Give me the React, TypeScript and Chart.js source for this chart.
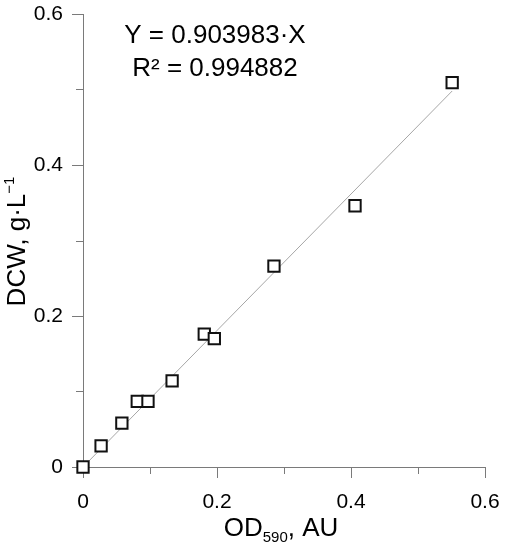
import React, { useEffect, useRef } from 'react';
import { Chart, registerables } from 'chart.js';

Chart.register(...registerables);

// Data
const odValues = [0, 0.027, 0.058, 0.081, 0.097, 0.133, 0.181, 0.196, 0.285, 0.406, 0.551];
const dcwValues = [0, 0.028, 0.058, 0.087, 0.087, 0.114, 0.176, 0.17, 0.266, 0.346, 0.509];
const fitX = [0, 0.551];
const fitY = [0, 0.498];
const majorTickValues = [0, 0.2, 0.4, 0.6];
const majorTickLabels = ['0', '0.2', '0.4', '0.6'];
const minorTickValues = [0.1, 0.3, 0.5];
const equationText = 'Y = 0.903983·X';
const r2Text = 'R² = 0.994882';

const FONT = "'Liberation Sans', Arial, sans-serif";
const AXIS_COLOR = '#7a7a7a';
const FIT_COLOR = '#a6a6a6';

type Part = { text: string; size: number; dy: number };

function drawRich(ctx: CanvasRenderingContext2D, parts: Part[], cx: number, baseline: number) {
  let total = 0;
  const widths = parts.map((p) => {
    ctx.font = `${p.size}px ${FONT}`;
    const w = ctx.measureText(p.text).width;
    total += w;
    return w;
  });
  let x = cx - total / 2;
  ctx.textAlign = 'left';
  ctx.textBaseline = 'alphabetic';
  parts.forEach((p, i) => {
    ctx.font = `${p.size}px ${FONT}`;
    ctx.fillText(p.text, x, baseline + p.dy);
    x += widths[i];
  });
}

function labelFor(v: number): string {
  const idx = majorTickValues.findIndex((m) => Math.abs(m - v) < 1e-6);
  return idx >= 0 ? majorTickLabels[idx] : '';
}

function fixScale(size: 'width' | 'height', value: number) {
  return (s: any) => {
    s[size] = value;
    s.paddingLeft = 0;
    s.paddingRight = 0;
    s.paddingTop = 0;
    s.paddingBottom = 0;
  };
}

const decorPlugin = {
  id: 'decor',
  afterDraw(chart: any) {
    const ctx: CanvasRenderingContext2D = chart.ctx;
    const xs = chart.scales.x;
    const ys = chart.scales.y;
    const area = chart.chartArea;
    ctx.save();
    // minor ticks
    ctx.strokeStyle = AXIS_COLOR;
    ctx.lineWidth = 1;
    ctx.beginPath();
    minorTickValues.forEach((v) => {
      const px = Math.round(xs.getPixelForValue(v)) + 0.5;
      ctx.moveTo(px, area.bottom);
      ctx.lineTo(px, area.bottom + 7);
      const py = Math.round(ys.getPixelForValue(v)) + 0.5;
      ctx.moveTo(area.left - 7, py);
      ctx.lineTo(area.left, py);
    });
    ctx.stroke();

    ctx.fillStyle = '#000';
    // annotation
    const ax = area.left + 132;
    drawRich(ctx, [{ text: equationText, size: 26, dy: 0 }], ax, area.top + 29);
    drawRich(ctx, [{ text: r2Text, size: 26, dy: 0 }], ax, area.top + 62);

    // x title
    const xc = (area.left + area.right) / 2 - 3;
    drawRich(
      ctx,
      [
        { text: 'OD', size: 26, dy: 0 },
        { text: '590', size: 15, dy: 6 },
        { text: ', AU', size: 26, dy: 0 },
      ],
      xc,
      536
    );

    // y title
    ctx.translate(25, (area.top + area.bottom) / 2 + 1);
    ctx.rotate(-Math.PI / 2);
    drawRich(
      ctx,
      [
        { text: 'DCW, g·L', size: 26, dy: 0 },
        { text: '−1', size: 15, dy: -11 },
      ],
      0,
      0
    );
    ctx.restore();
  },
};

export default function App() {
  const ref = useRef<HTMLCanvasElement | null>(null);

  useEffect(() => {
    if (!ref.current) return;
    const tickFont = { family: FONT, size: 21 };
    const chart = new Chart(ref.current, {
      type: 'scatter',
      data: {
        datasets: [
          {
            label: 'DCW',
            data: odValues.map((x, i) => ({ x, y: dcwValues[i] })),
            pointStyle: 'rect',
            pointRadius: 8,
            pointHoverRadius: 8,
            pointBorderWidth: 2,
            pointBorderColor: '#111',
            pointBackgroundColor: '#fff',
            showLine: false,
            clip: false,
          } as any,
          {
            label: 'fit',
            data: fitX.map((x, i) => ({ x, y: fitY[i] })),
            showLine: true,
            borderColor: FIT_COLOR,
            borderWidth: 1,
            pointRadius: 0,
            pointHoverRadius: 0,
            fill: false,
            clip: false,
          } as any,
        ],
      },
      options: {
        animation: false,
        responsive: false,
        events: [],
        layout: { padding: { left: 0, right: 20, top: 14, bottom: 0 } },
        plugins: {
          legend: { display: false },
          tooltip: { enabled: false },
        },
        scales: {
          x: {
            type: 'linear',
            min: 0,
            max: 0.6,
            afterFit: fixScale('height', 83),
            ticks: {
              stepSize: 0.1,
              autoSkip: false,
              maxRotation: 0,
              padding: 12,
              color: '#000',
              font: tickFont,
              callback: (v: any) => labelFor(Number(v)),
            },
            grid: {
              drawOnChartArea: false,
              drawTicks: true,
              tickLength: 11,
              tickWidth: 1,
              tickColor: (c: any) => (labelFor(c.tick.value) ? AXIS_COLOR : 'rgba(0,0,0,0)'),
            },
            border: { display: true, color: AXIS_COLOR, width: 1 },
          },
          y: {
            type: 'linear',
            min: 0,
            max: 0.6,
            afterFit: fixScale('width', 83),
            ticks: {
              stepSize: 0.1,
              autoSkip: false,
              padding: 9,
              color: '#000',
              font: tickFont,
              callback: (v: any) => labelFor(Number(v)),
            },
            grid: {
              drawOnChartArea: false,
              drawTicks: true,
              tickLength: 11,
              tickWidth: 1,
              tickColor: (c: any) => (labelFor(c.tick.value) ? AXIS_COLOR : 'rgba(0,0,0,0)'),
            },
            border: { display: true, color: AXIS_COLOR, width: 1 },
          },
        },
      } as any,
      plugins: [decorPlugin],
    });
    return () => chart.destroy();
  }, []);

  return (
    <div style={{ position: 'absolute', left: 0, top: 0, width: 505, height: 550, background: '#fff' }}>
      <canvas ref={ref} width={505} height={550} style={{ display: 'block', width: 505, height: 550 }} />
    </div>
  );
}
